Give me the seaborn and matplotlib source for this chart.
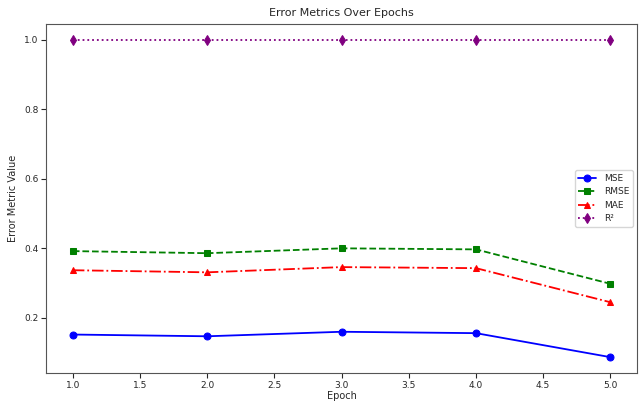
import matplotlib
matplotlib.use("Agg")
import matplotlib.pyplot as plt
import seaborn as sns
import pandas as pd

epochs = [1, 2, 3, 4, 5]
mse = [0.152, 0.147, 0.160, 0.156, 0.087]
rmse = [0.392, 0.386, 0.400, 0.397, 0.298]
mae = [0.337, 0.331, 0.346, 0.343, 0.245]
r2 = [1.0, 1.0, 1.0, 1.0, 1.0]

series = [
    ("MSE", mse, "blue", "o", "-"),
    ("RMSE", rmse, "green", "s", "--"),
    ("MAE", mae, "red", "^", "-."),
    ("R²", r2, "purple", "d", ":"),
]

sns.set_style("ticks")
plt.rcParams['font.family'] = ['DejaVu Sans']

fig, ax = plt.subplots(figsize=(6.43, 4.05), dpi=100)
for name, vals, color, marker, ls in series:
    df = pd.DataFrame({"Epoch": epochs, "Value": vals})
    sns.lineplot(data=df, x="Epoch", y="Value", ax=ax, color=color, marker=marker,
                 linestyle=ls, label=name, markersize=5, markeredgecolor=color,
                 linewidth=1.3)

ax.set_title("Error Metrics Over Epochs", fontsize=8)
ax.set_xlabel("Epoch", fontsize=7, labelpad=1)
ax.set_ylabel("Error Metric Value", fontsize=7)
ax.tick_params(labelsize=6.5, pad=2)
for s in ax.spines.values():
    s.set_color("#555555")
ax.legend(loc="center right", fontsize=6.5)
fig.subplots_adjust(left=0.0715, right=0.991, top=0.941, bottom=0.079)
fig.savefig("out.png", dpi=100)
